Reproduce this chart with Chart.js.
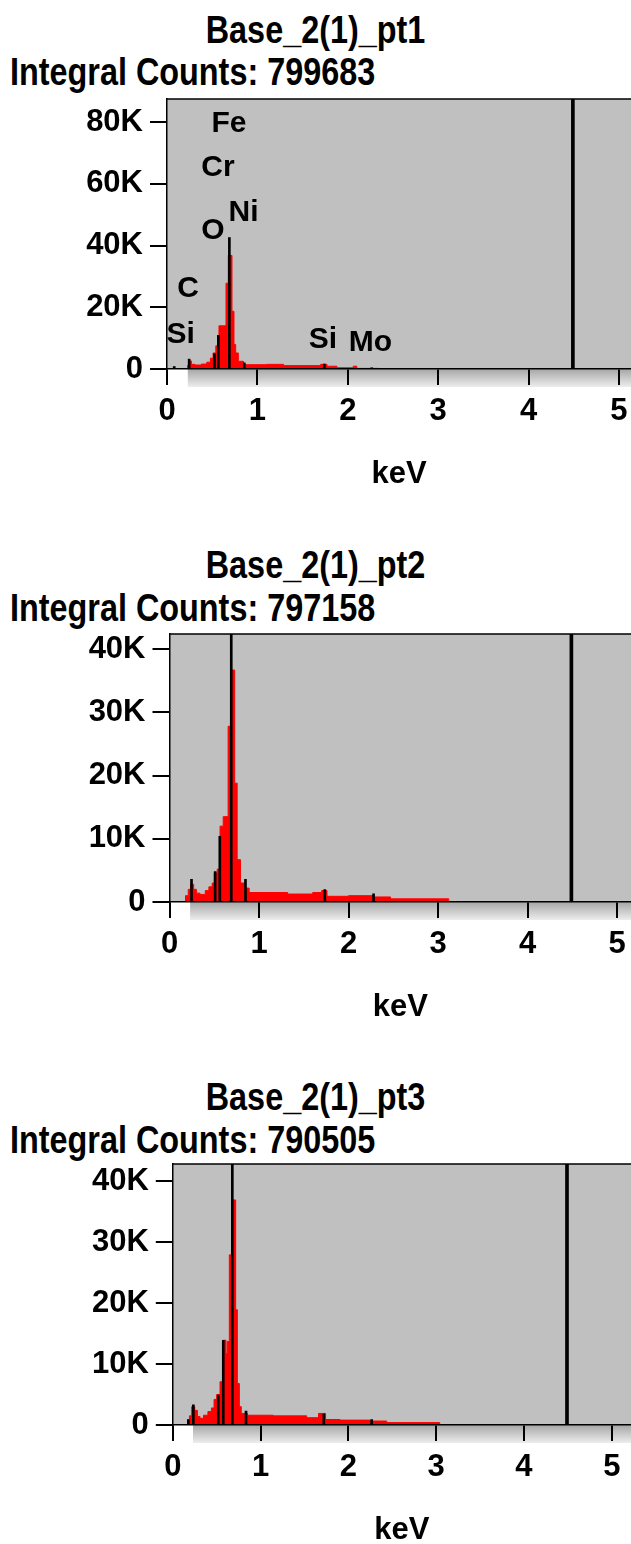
<!DOCTYPE html>
<html>
<head>
<meta charset="utf-8">
<script src="https://cdn.jsdelivr.net/npm/chart.js@4/dist/chart.umd.min.js"></script>
<style>
    html, body { margin: 0; padding: 0; background: #fff; overflow: hidden; }
    body { width: 631px; height: 1544px; position: relative; }
    .panel { position: absolute; left: 0; width: 661px; }
    .title, .sub {
        position: absolute; color: #000; white-space: nowrap;
        font-family: 'Liberation Sans', Arial, sans-serif;
        font-weight: bold; font-size: 39px; line-height: 44px;
    }
    .title { left: 0; width: 631px; text-align: center; transform: scaleX(0.83); transform-origin: 315.5px 50%; }
    .sub { left: 10px; transform: scaleX(0.83); transform-origin: 0 50%; }
</style>
</head>
<body>
<div class="title" style="top:8px">Base_2(1)_pt1</div>
<div class="sub" style="top:50px">Integral Counts: 799683</div>
<div class="panel" style="top:69px"><canvas id="pt1" width="661" height="436"></canvas></div>

<div class="title" style="top:543px">Base_2(1)_pt2</div>
<div class="sub" style="top:586px">Integral Counts: 797158</div>
<div class="panel" style="top:604px"><canvas id="pt2" width="661" height="434"></canvas></div>

<div class="title" style="top:1075px">Base_2(1)_pt3</div>
<div class="sub" style="top:1118px">Integral Counts: 790505</div>
<div class="panel" style="top:1134px"><canvas id="pt3" width="661" height="427"></canvas></div>

<script>
// spectrum bins: bin start energy (keV) and counts
const pt1KeV = [0.20, 0.229, 0.245, 0.27, 0.31, 0.38, 0.44, 0.48, 0.51, 0.54, 0.575, 0.653, 0.678, 0.719, 0.741, 0.76, 0.789, 0.845, 1.10, 1.29, 1.70, 1.77, 1.88, 2.06, 2.10, 2.35, 3.20];
const pt1Counts = [0, 1200, 2600, 1500, 1300, 1600, 2200, 3500, 5200, 7500, 14000, 27800, 36800, 18700, 7900, 5200, 2500, 1400, 1500, 1100, 1500, 900, 400, 900, 200, 100, 0];

const pt2KeV = [0.17, 0.179, 0.21, 0.235, 0.27, 0.30, 0.34, 0.40, 0.44, 0.477, 0.50, 0.533, 0.565, 0.60, 0.655, 0.695, 0.728, 0.756, 0.793, 0.849, 0.89, 1.32, 1.60, 1.70, 1.76, 2.00, 2.28, 2.47, 3.12];
const pt2Counts = [0, 1000, 2000, 2800, 2000, 1400, 1200, 1800, 2400, 3000, 4600, 5200, 12000, 13500, 27800, 36700, 18800, 6700, 3000, 2200, 1500, 1260, 1500, 1800, 900, 1000, 800, 500, 0];

const pt3KeV = [0.17, 0.177, 0.19, 0.215, 0.25, 0.28, 0.31, 0.35, 0.40, 0.44, 0.47, 0.50, 0.538, 0.575, 0.606, 0.621, 0.644, 0.682, 0.716, 0.735, 0.758, 0.78, 0.85, 1.145, 1.525, 1.66, 1.74, 1.905, 2.246, 2.436, 3.04];
const pt3Counts = [0, 900, 1500, 3000, 2400, 1400, 1100, 1600, 2200, 2800, 4200, 5000, 7100, 13900, 11700, 13700, 27900, 36900, 18900, 6800, 3000, 1900, 1600, 1500, 1200, 1900, 900, 800, 650, 400, 0];

// black peak marker lines
const pt1MarkKeV = [0.08, 0.245, 0.525, 0.568, 0.69, 0.855, 1.74, 2.265];
const pt1MarkCounts = [800, 3200, 4900, 10900, 42600, 2000, 1600, 400];
const pt2MarkKeV = [0.246, 0.51, 0.562, 0.69, 0.849, 1.735, 2.28];
const pt2MarkCounts = [3600, 4800, 10400, 42400, 3600, 1950, 1300];
const pt3MarkKeV = [0.177, 0.234, 0.518, 0.575, 0.678, 0.834, 1.72, 2.265];
const pt3MarkCounts = [900, 3300, 4900, 13900, 42800, 2300, 1800, 900];

// cursor line
const cursorKeV = 4.49;

// element labels (panel 1 only)
const pt1Elements = ['Fe', 'Cr', 'Ni', 'O', 'C', 'Si', 'Si', 'Mo'];
const pt1ElemKeV = [0.686, 0.564, 0.846, 0.509, 0.232, 0.152, 1.726, 2.251];
const pt1ElemCounts = [79400, 65300, 50600, 44700, 25900, 11000, 9400, 8400];

// axis ticks
const xTicks = [0, 1, 2, 3, 4, 5];
const pt1YTicks = [0, 20000, 40000, 60000, 80000];
const pt23YTicks = [0, 10000, 20000, 30000, 40000];

const FONT = "'Liberation Sans', Arial, sans-serif";

const toPoints = (xs, ys) => xs.map((x, i) => ({ x: x, y: ys[i] }));

const panelPlugin = {
    id: 'edsPanel',
    beforeDraw(chart) {
        const { ctx, chartArea: a } = chart;
        const x = chart.scales.x;
        ctx.save();
        ctx.fillStyle = '#c0c0c0';
        ctx.fillRect(a.left, a.top, a.right - a.left, a.bottom - a.top);
        // shaded strip under the energy axis
        const sx = x.getPixelForValue(0.23);
        const g = ctx.createLinearGradient(0, a.bottom, 0, a.bottom + 18);
        g.addColorStop(0, '#a6a6a6');
        g.addColorStop(1, '#ededed');
        ctx.fillStyle = g;
        ctx.fillRect(sx, a.bottom, chart.width - sx, 18);
        ctx.restore();
    },
    afterDraw(chart, args, opts) {
        const { ctx, chartArea: a } = chart;
        ctx.save();
        ctx.strokeStyle = '#000';
        ctx.lineWidth = 1.5;
        ctx.beginPath();
        ctx.moveTo(a.left, a.top);
        ctx.lineTo(a.right, a.top);
        ctx.stroke();
        if (opts.labels) {
            ctx.fillStyle = '#000';
            ctx.font = 'bold 30px ' + FONT;
            ctx.textAlign = 'center';
            ctx.textBaseline = 'middle';
            opts.labels.forEach((t, i) => {
                ctx.fillText(t, chart.scales.x.getPixelForValue(opts.keV[i]), chart.scales.y.getPixelForValue(opts.counts[i]));
            });
        }
        ctx.restore();
    }
};

function makePanel(id, cfg) {
    const ctx = document.getElementById(id).getContext('2d');
    return new Chart(ctx, {
        type: 'line',
        data: {
            datasets: [{
                type: 'bar',
                data: toPoints(cfg.markKeV, cfg.markCounts),
                backgroundColor: '#000',
                barThickness: 2,
                grouped: false,
                order: 0
            }, {
                type: 'bar',
                data: [{ x: cursorKeV, y: cfg.yMax }],
                backgroundColor: '#000',
                barThickness: 3,
                grouped: false,
                order: 0
            }, {
                data: toPoints(cfg.keV, cfg.counts),
                stepped: true,
                fill: 'origin',
                borderColor: '#ff0000',
                backgroundColor: '#ff0000',
                borderWidth: 1,
                pointRadius: 0,
                order: 1
            }]
        },
        options: {
            responsive: false,
            animation: false,
            devicePixelRatio: 1,
            // plot runs off the right edge of the page, as in the original
            layout: { padding: { left: 0, top: 30, right: 30, bottom: 0 } },
            plugins: {
                legend: { display: false },
                tooltip: { enabled: false },
                edsPanel: { labels: cfg.labels, keV: cfg.labelKeV, counts: cfg.labelCounts }
            },
            scales: {
                x: {
                    type: 'linear',
                    min: 0,
                    max: cfg.xMax,
                    offset: false,
                    afterFit: s => { s.height = 136; },
                    afterBuildTicks: s => { s.ticks = xTicks.map(v => ({ value: v })); },
                    border: { color: '#000', width: 1.5, z: 1 },
                    grid: { drawOnChartArea: false, offset: false, tickLength: 16, color: '#000', lineWidth: 2 },
                    ticks: { padding: 8, color: '#000', font: { family: FONT, size: 31, weight: 'bold' } },
                    title: {
                        display: true, text: 'keV', color: '#000',
                        font: { family: FONT, size: 31, weight: 'bold' },
                        padding: { top: 0, bottom: 12 }
                    }
                },
                y: {
                    min: 0,
                    max: cfg.yMax,
                    afterFit: s => { s.width = cfg.left; },
                    afterBuildTicks: s => { s.ticks = cfg.yTicks.map(v => ({ value: v })); },
                    border: { color: '#000', width: 1.5, z: 1 },
                    grid: { drawOnChartArea: false, tickLength: 17, color: '#000', lineWidth: 2 },
                    ticks: {
                        padding: 7,
                        color: '#000',
                        font: { family: FONT, size: 31, weight: 'bold' },
                        callback: v => v === 0 ? '0' : (v / 1000) + 'K'
                    }
                }
            }
        },
        plugins: [panelPlugin]
    });
}

makePanel('pt1', {
    keV: pt1KeV, counts: pt1Counts, markKeV: pt1MarkKeV, markCounts: pt1MarkCounts,
    labels: pt1Elements, labelKeV: pt1ElemKeV, labelCounts: pt1ElemCounts,
    left: 167, xMax: 5.133, yMax: 87500, yTicks: pt1YTicks
});
makePanel('pt2', {
    keV: pt2KeV, counts: pt2Counts, markKeV: pt2MarkKeV, markCounts: pt2MarkCounts,
    left: 169.5, xMax: 5.156, yMax: 42400, yTicks: pt23YTicks
});
makePanel('pt3', {
    keV: pt3KeV, counts: pt3Counts, markKeV: pt3MarkKeV, markCounts: pt3MarkCounts,
    left: 172.8, xMax: 5.219, yMax: 42800, yTicks: pt23YTicks
});
</script>
</body>
</html>
